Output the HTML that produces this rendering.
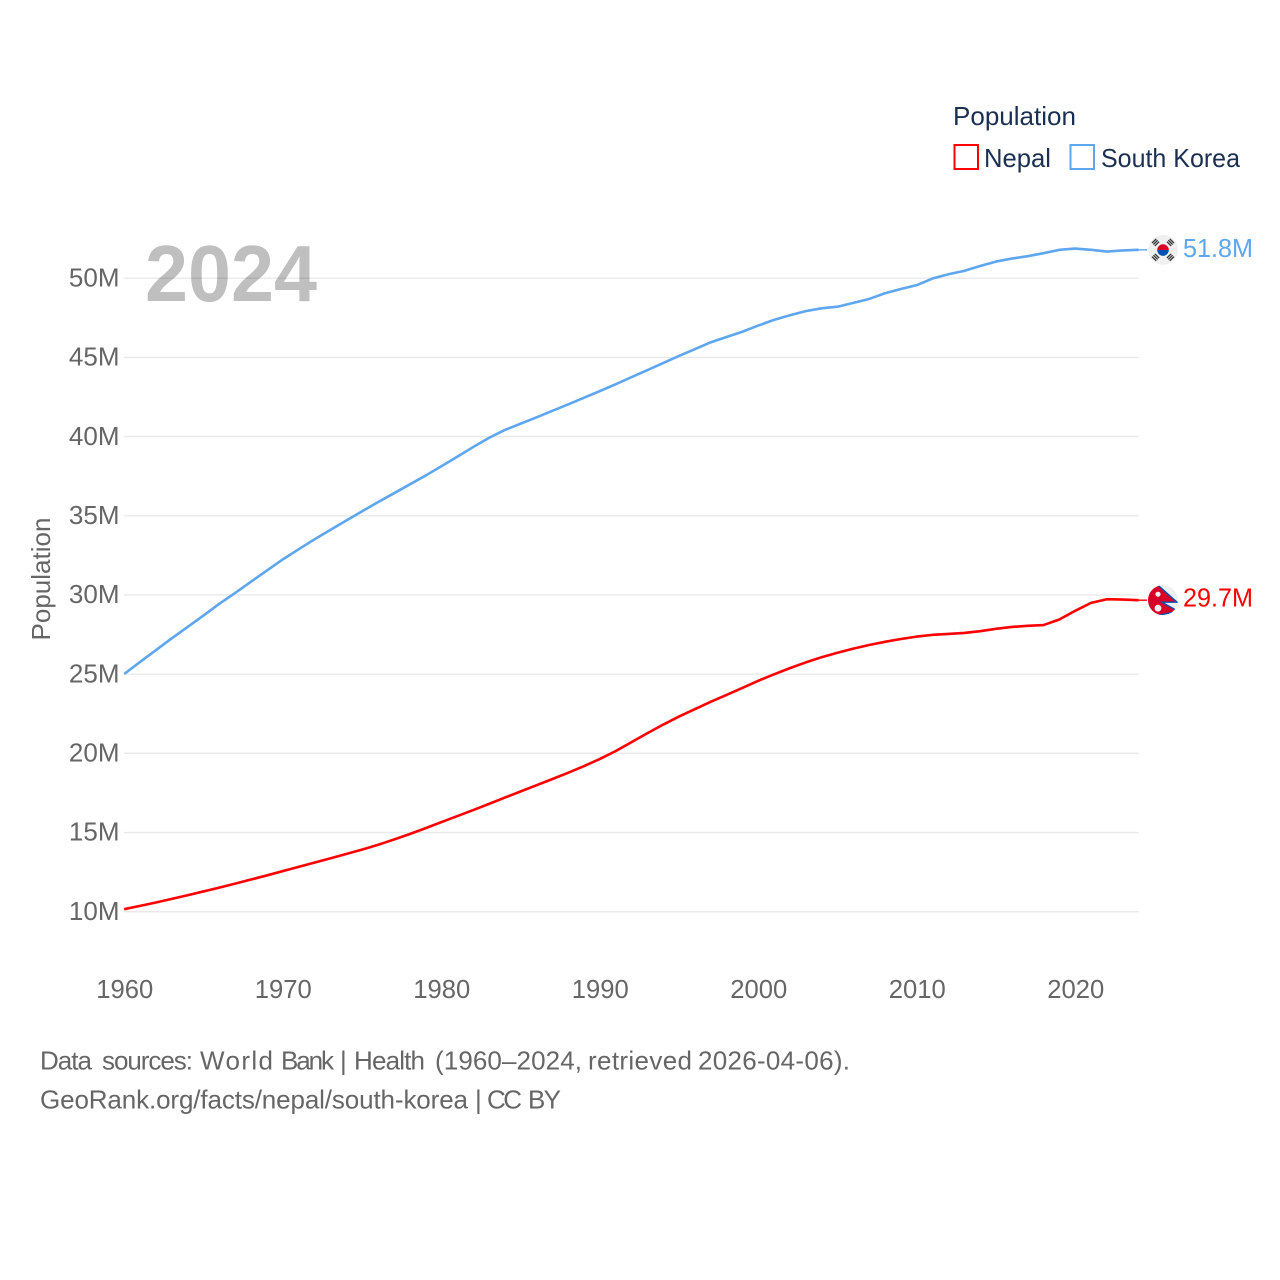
<!DOCTYPE html>
<html lang="en">
<head>
<meta charset="utf-8">
<title>Population: Nepal and South Korea</title>
<style>
  html, body { margin: 0; padding: 0; background: #fff; }
  svg { display: block; font-family: "Liberation Sans", sans-serif; }
</style>
</head>
<body>
<svg id="chart" xmlns="http://www.w3.org/2000/svg" width="1280" height="1280" viewBox="0 0 1280 1280">
  <defs>
    <clipPath id="flag-clip"><circle cx="0" cy="0" r="15"></circle></clipPath>
  </defs>
  <rect width="1280" height="1280" fill="#fff"></rect>
  <g id="grid"></g>
  <text x="145" y="301" font-size="80" font-weight="700" fill="#000" fill-opacity="0.25" textLength="172" lengthAdjust="spacingAndGlyphs">2024</text>
  <g id="y-axis"></g>
  <g id="x-axis"></g>
  <text transform="translate(50 579) rotate(-90)" text-anchor="middle" font-size="26" fill="#666" textLength="123" lengthAdjust="spacingAndGlyphs">Population</text>
  <g id="series"></g>
  <g id="end-markers"></g>

  <g fill="#1a2f52" font-size="26">
    <text x="953" y="125" textLength="123" lengthAdjust="spacingAndGlyphs">Population</text>
    <rect x="954.5" y="145" width="23.5" height="24" fill="none" stroke="#ff0000" stroke-width="2"></rect>
    <text x="984" y="167" textLength="67" lengthAdjust="spacingAndGlyphs">Nepal</text>
    <rect x="1070.5" y="145" width="23.5" height="24" fill="none" stroke="#5ea6ee" stroke-width="2"></rect>
    <text x="1101" y="167" textLength="139" lengthAdjust="spacingAndGlyphs">South Korea</text>
  </g>

  <g fill="#666" font-size="26">
    <text y="1069.3"><tspan x="40" textLength="52" lengthAdjust="spacing">Data</tspan> <tspan x="102" textLength="91" lengthAdjust="spacing">sources:</tspan> <tspan x="200" textLength="73" lengthAdjust="spacing">World</tspan> <tspan x="281" textLength="53" lengthAdjust="spacing">Bank</tspan> <tspan x="340">|</tspan> <tspan x="354" textLength="71" lengthAdjust="spacing">Health</tspan> <tspan x="435" textLength="147" lengthAdjust="spacing">(1960–2024,</tspan> <tspan x="588" textLength="104" lengthAdjust="spacing">retrieved</tspan> <tspan x="698" textLength="152" lengthAdjust="spacing">2026-04-06).</tspan></text>
    <text y="1108.3"><tspan x="40" textLength="428" lengthAdjust="spacing">GeoRank.org/facts/nepal/south-korea</tspan> <tspan x="475">|</tspan> <tspan x="487" textLength="35" lengthAdjust="spacing">CC</tspan> <tspan x="528" textLength="33" lengthAdjust="spacing">BY</tspan></text>
  </g>
</svg>
<script>
const years = [1960,1961,1962,1963,1964,1965,1966,1967,1968,1969,1970,1971,1972,1973,1974,1975,1976,1977,1978,1979,1980,1981,1982,1983,1984,1985,1986,1987,1988,1989,1990,1991,1992,1993,1994,1995,1996,1997,1998,1999,2000,2001,2002,2003,2004,2005,2006,2007,2008,2009,2010,2011,2012,2013,2014,2015,2016,2017,2018,2019,2020,2021,2022,2023,2024];
const nepalValues = [10.16,10.37,10.58,10.81,11.04,11.28,11.52,11.77,12.03,12.29,12.56,12.83,13.10,13.37,13.64,13.92,14.22,14.55,14.90,15.27,15.65,16.03,16.41,16.80,17.20,17.59,17.98,18.37,18.77,19.19,19.64,20.14,20.70,21.27,21.81,22.32,22.79,23.25,23.69,24.13,24.58,24.99,25.38,25.74,26.07,26.35,26.61,26.84,27.04,27.22,27.37,27.48,27.54,27.60,27.71,27.86,27.98,28.05,28.10,28.45,29.00,29.50,29.73,29.71,29.67];
const southKoreaValues = [25.01,25.77,26.51,27.26,27.98,28.70,29.44,30.13,30.84,31.54,32.24,32.88,33.51,34.10,34.69,35.28,35.85,36.41,36.97,37.53,38.12,38.72,39.33,39.91,40.41,40.81,41.21,41.62,42.03,42.45,42.87,43.30,43.75,44.19,44.64,45.09,45.52,45.95,46.29,46.62,47.01,47.37,47.66,47.92,48.10,48.20,48.44,48.69,49.05,49.32,49.56,49.98,50.25,50.46,50.77,51.05,51.24,51.39,51.58,51.79,51.87,51.79,51.68,51.75,51.79];
const yTickValues = [10,15,20,25,30,35,40,45,50];
const xTickValues = [1960,1970,1980,1990,2000,2010,2020];

const NS = 'http://www.w3.org/2000/svg';
const xScale = function (year) { return 124.2 + (year - 1960) * 15.85; };
const yScale = function (value) { return 911.7 - (value - 10) * 15.8375; };

function make(tag, attrs, parent) {
  const el = document.createElementNS(NS, tag);
  Object.keys(attrs).forEach(function (k) { el.setAttribute(k, attrs[k]); });
  parent.appendChild(el);
  return el;
}

const gridGroup = document.getElementById('grid');
const yAxisGroup = document.getElementById('y-axis');
yTickValues.forEach(function (v) {
  const line = make('line', { x1: 124, x2: 1139, y1: yScale(v), y2: yScale(v), stroke: '#e9e9e9', 'stroke-width': 1.4 }, gridGroup);
  
  
  const label = make('text', { x: 119.5, y: yScale(v) + 8.2, 'text-anchor': 'end', 'font-size': 26, fill: '#666' }, yAxisGroup);
  
  
  label.textContent = v + 'M';
});

const xAxisGroup = document.getElementById('x-axis');
xTickValues.forEach(function (yr) {
  const label = make('text', { x: xScale(yr) + 0.6, y: 998, 'text-anchor': 'middle', 'font-size': 26, fill: '#666', textLength: 57, lengthAdjust: 'spacingAndGlyphs' }, xAxisGroup);
  
  
  label.textContent = yr;
});

function linePoints(values) {
  return values.map(function (v, i) { return xScale(years[i]).toFixed(2) + ',' + yScale(v).toFixed(2); }).join(' ');
}

const seriesGroup = document.getElementById('series');
const nepalLine = make('polyline', { points: linePoints(nepalValues), fill: 'none', stroke: '#ff0000', 'stroke-width': 2.6, 'stroke-linejoin': 'round' }, seriesGroup);


const koreaLine = make('polyline', { points: linePoints(southKoreaValues), fill: 'none', stroke: '#5ea6ee', 'stroke-width': 2.6, 'stroke-linejoin': 'round' }, seriesGroup);



const markers = document.getElementById('end-markers');
const lastNepal = nepalValues[nepalValues.length - 1];
const lastKorea = southKoreaValues[southKoreaValues.length - 1];
const lastX = xScale(years[years.length - 1]);

const koreaConnector = make('line', { x1: lastX, x2: 1147, y1: yScale(lastKorea), y2: yScale(lastKorea), stroke: '#5ea6ee', 'stroke-width': 1.4 }, markers);


const nepalConnector = make('line', { x1: lastX, x2: 1147, y1: yScale(lastNepal), y2: yScale(lastNepal), stroke: '#ff0000', 'stroke-width': 1.4 }, markers);



/* South Korea flag marker */
const krFlag = make('g', { transform: 'translate(1163 ' + yScale(lastKorea) + ')', 'clip-path': 'url(#flag-clip)' }, markers);


make('circle', { r: 15, fill: '#f0f0f0' }, krFlag);
make('path', { d: 'M-5.8 0.2A5.8 5.8 0 0 1 5.8 0.2Z', fill: '#d80027' }, krFlag);
make('path', { d: 'M-5.8 0.2A5.8 5.8 0 0 0 5.8 0.2Z', fill: '#0052b4' }, krFlag);
[45, 135, 225, 315].forEach(function (angle) {
  const bars = make('g', { transform: 'rotate(' + angle + ')', fill: '#333' }, krFlag);
  make('rect', { x: -3, y: -13.2, width: 6, height: 1.3 }, bars);
  make('rect', { x: -3, y: -11.2, width: 6, height: 1.3 }, bars);
  make('rect', { x: -3, y: -9.2, width: 6, height: 1.3 }, bars);
});

/* Nepal flag marker */
const npFlag = make('g', { transform: 'translate(1163 ' + yScale(lastNepal) + ')', 'clip-path': 'url(#flag-clip)' }, markers);


make('circle', { r: 15, fill: '#f0f0f0' }, npFlag);
make('path', { d: 'M-18 -18L-5 -15L14 2L-1 2L15 11L-18 18Z', fill: '#d80027', stroke: '#0052b4', 'stroke-width': 1.4 }, npFlag);
make('circle', { cx: -5, cy: -6, r: 2.6, fill: '#f0f0f0' }, npFlag);
make('circle', { cx: -5, cy: 8, r: 3.4, fill: '#f0f0f0' }, npFlag);

const koreaValueLabel = make('text', { x: 1183, y: yScale(lastKorea) + 7, 'font-size': 26, fill: '#5ea6ee', textLength: 70, lengthAdjust: 'spacingAndGlyphs' }, markers);


koreaValueLabel.textContent = lastKorea.toFixed(1) + 'M';

const nepalValueLabel = make('text', { x: 1183, y: yScale(lastNepal) + 6.5, 'font-size': 26, fill: '#ff0000', textLength: 70, lengthAdjust: 'spacingAndGlyphs' }, markers);


nepalValueLabel.textContent = lastNepal.toFixed(1) + 'M';
</script>
</body>
</html>
